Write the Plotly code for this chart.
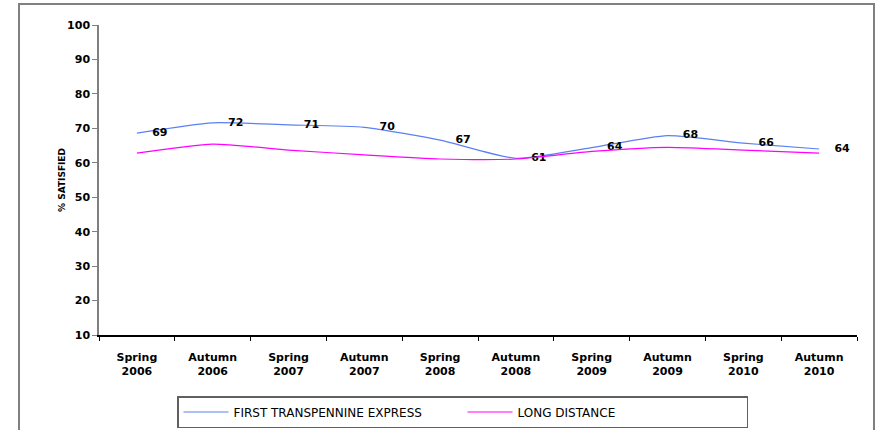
import plotly.graph_objects as go

categories = ["Spring<br>2006", "Autumn<br>2006", "Spring<br>2007", "Autumn<br>2007", "Spring<br>2008",
              "Autumn<br>2008", "Spring<br>2009", "Autumn<br>2009", "Spring<br>2010", "Autumn<br>2010"]
tpe_values = [68.6, 71.6, 71.0, 70.3, 66.6, 61.3, 64.4, 67.9, 65.7, 64.0]
tpe_labels = ["69", "72", "71", "70", "67", "61", "64", "68", "66", "64"]
ld_values = [62.8, 65.4, 63.7, 62.3, 61.1, 61.1, 63.3, 64.5, 63.7, 62.8]
y_ticks = [10, 20, 30, 40, 50, 60, 70, 80, 90, 100]

W, H = 878, 430
L, R, T, B = 99, 21, 25, 95

pad = "\u00a0\u00a0\u00a0\u00a0"

fig = go.Figure()
fig.add_trace(go.Scatter(
    x=categories, y=tpe_values, name="FIRST TRANSPENNINE EXPRESS",
    mode="lines+text", text=[pad + t for t in tpe_labels], textposition="middle right",
    textfont=dict(family="DejaVu Sans", size=11, color="black", weight="bold"),
    line=dict(color="#5A80F2", width=1.2, shape="spline", smoothing=0.6),
))
fig.add_trace(go.Scatter(
    x=categories, y=ld_values, name="LONG DISTANCE",
    mode="lines",
    line=dict(color="#FF00FF", width=1.2, shape="spline", smoothing=0.6),
))

fig.update_layout(
    width=W, height=H,
    margin=dict(l=L, r=R, t=T, b=B, autoexpand=False),
    plot_bgcolor="white", paper_bgcolor="white",
    font=dict(family="DejaVu Sans", size=11, color="black"),
    showlegend=True,
    legend=dict(
        orientation="h", x=(177 - L) / (W - L - R), xanchor="left",
        y=-(396 - (H - B)) / (H - T - B), yanchor="top",
        bordercolor="#606060", borderwidth=1.5,
        font=dict(family="DejaVu Sans", size=12, color="black"),
        traceorder="normal", entrywidth=224, entrywidthmode="pixels",
        tracegroupgap=0, itemwidth=45,
    ),
    xaxis=dict(
        showgrid=False, zeroline=False,
        showline=True, linecolor="black", linewidth=1.5,
        ticks="outside", ticklen=4, tickcolor="black", tickson="boundaries",
        tickfont=dict(family="DejaVu Sans", size=11, color="black", weight="bold"),
        ticklabelstandoff=11,
        range=[-0.5, 9.5],
    ),
    yaxis=dict(
        range=[10, 100], tickvals=y_ticks,
        showgrid=False, zeroline=False,
        showline=True, linecolor="#808080", linewidth=1.5,
        ticks="outside", ticklen=5, tickcolor="#808080",
        tickfont=dict(family="DejaVu Sans", size=11, color="black", weight="bold"),
        title=dict(text="% SATISFIED", font=dict(family="DejaVu Sans", size=9, color="black", weight="bold"), standoff=0),
    ),
)

fig.add_shape(type="rect", xref="paper", yref="paper",
              x0=(19 - L) / (W - L - R), x1=(874 - L) / (W - L - R),
              y0=-(440 - (H - B)) / (H - T - B), y1=1 + (T - 4) / (H - T - B),
              line=dict(color="#808080", width=2), fillcolor="rgba(0,0,0,0)", layer="below")

fig.write_html("out.html", config={"displayModeBar": False},
               post_script="document.body.style.margin='0';")
